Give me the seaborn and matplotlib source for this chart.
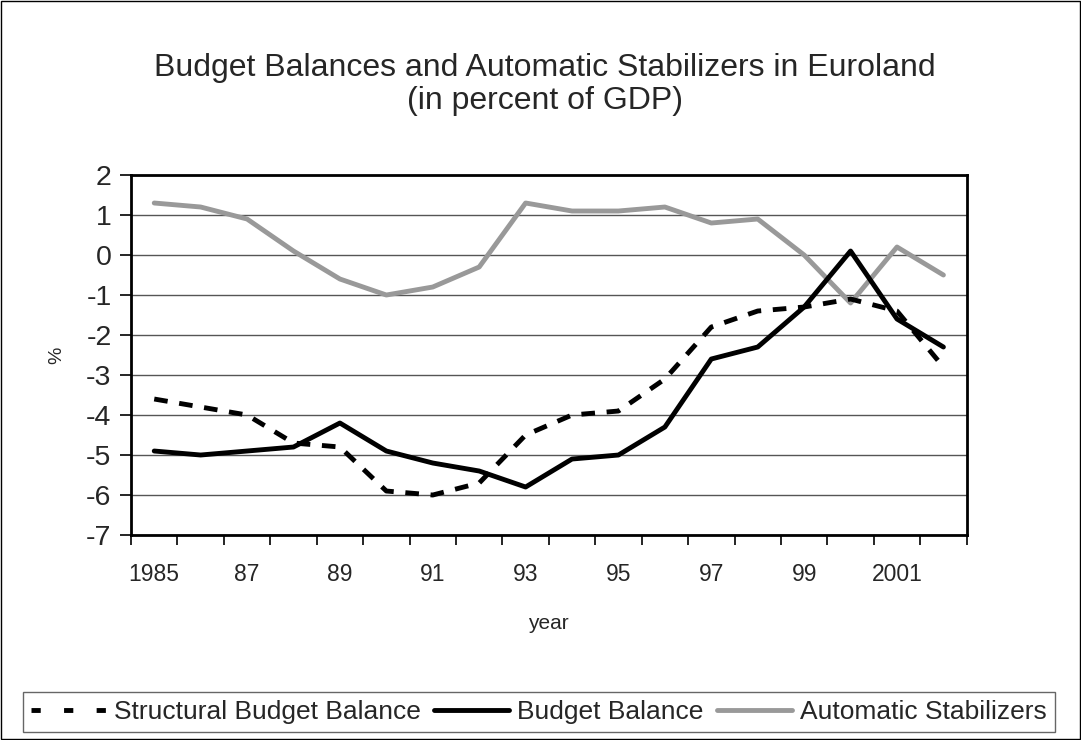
import matplotlib
matplotlib.use('Agg')
import matplotlib.pyplot as plt
import seaborn as sns
import pandas as pd
from matplotlib.lines import Line2D
from matplotlib.patches import Rectangle
from matplotlib.ticker import FixedLocator, NullFormatter

years = list(range(1985, 2003))
structural = [-3.6, -3.8, -4.0, -4.7, -4.8, -5.9, -6.0, -5.7, -4.5, -4.0, -3.9, -3.1, -1.8, -1.4, -1.3, -1.1, -1.4, -2.8]
budget = [-4.9, -5.0, -4.9, -4.8, -4.2, -4.9, -5.2, -5.4, -5.8, -5.1, -5.0, -4.3, -2.6, -2.3, -1.3, 0.1, -1.6, -2.3]
automatic = [1.3, 1.2, 0.9, 0.1, -0.6, -1.0, -0.8, -0.3, 1.3, 1.1, 1.1, 1.2, 0.8, 0.9, 0.0, -1.2, 0.2, -0.5]
series_names = ["Structural Budget Balance", "Budget Balance", "Automatic Stabilizers"]
xtick_years = [1985, 1987, 1989, 1991, 1993, 1995, 1997, 1999, 2001]
xtick_labels = ["1985", "87", "89", "91", "93", "95", "97", "99", "2001"]
ytick_values = [2, 1, 0, -1, -2, -3, -4, -5, -6, -7]

df = pd.DataFrame({
    "year": years * 3,
    "value": structural + budget + automatic,
    "series": [series_names[0]] * len(years) + [series_names[1]] * len(years) + [series_names[2]] * len(years),
})

sns.set_theme(style="white")
plt.rcParams['font.family'] = ['Liberation Sans', 'DejaVu Sans']

fig = plt.figure(figsize=(10.81, 7.40), dpi=100)
ax = fig.add_axes([0.1212, 0.277, 0.7730, 0.4865])

palette = {series_names[0]: "black", series_names[1]: "black", series_names[2]: "#999999"}
dashes = {series_names[0]: (2.8, 2.4), series_names[1]: "", series_names[2]: ""}
sns.lineplot(data=df, x="year", y="value", hue="series", style="series",
             palette=palette, dashes=dashes, linewidth=3.5, ax=ax, legend=False,
             hue_order=series_names[::-1], style_order=series_names[::-1])

ax.set_xlim(1984.5, 2002.5)
ax.set_ylim(-7, 2)
ax.set_yticks(ytick_values)
ax.set_yticklabels([str(v) for v in ytick_values], fontsize=20.5)
ax.xaxis.set_major_locator(FixedLocator([1984.5 + i for i in range(19)]))
ax.xaxis.set_major_formatter(NullFormatter())
ax.xaxis.set_minor_locator(FixedLocator(xtick_years))
ax.set_xticklabels(xtick_labels, minor=True, fontsize=16.5)
ax.tick_params(axis='x', which='major', direction='out', length=7, width=1.2, color='black', bottom=True)
ax.tick_params(axis='x', which='minor', length=0, pad=20, bottom=True)
ax.tick_params(axis='y', direction='out', length=8, width=1.2, color='black', left=True, pad=6)

ax.grid(axis='y', color='#555555', linewidth=1.0)
ax.grid(axis='x', visible=False)
ax.set_axisbelow(True)
for sp in ax.spines.values():
    sp.set_color('black')
    sp.set_linewidth(2.0)
    sp.set_visible(True)

ax.set_xlabel("year", fontsize=15, labelpad=20)
ax.set_ylabel("%", fontsize=14, labelpad=15)

fig.text(0.504, 0.886, "Budget Balances and Automatic Stabilizers in Euroland\n(in percent of GDP)",
         ha='center', va='center', fontsize=23, linespacing=1.12)

handles = [
    Line2D([], [], color='black', lw=3.5, dashes=(1.9, 4.8)),
    Line2D([], [], color='black', lw=3.5),
    Line2D([], [], color='#999999', lw=3.5),
]
leg = fig.legend(handles, series_names, loc='lower left', bbox_to_anchor=(23 / 1081, 8 / 740),
                 ncol=3, frameon=True, fancybox=False, fontsize=19, handlelength=2.85,
                 columnspacing=0.5, handletextpad=0.3, borderpad=0.3, borderaxespad=0.0)
leg.get_frame().set_edgecolor('#404040')
leg.get_frame().set_linewidth(1.0)

fig.patches.append(Rectangle((0.0005, 0.0007), 0.999, 0.9986, transform=fig.transFigure,
                             fill=False, edgecolor='black', linewidth=1.0))

fig.savefig("out.png", dpi=100)
